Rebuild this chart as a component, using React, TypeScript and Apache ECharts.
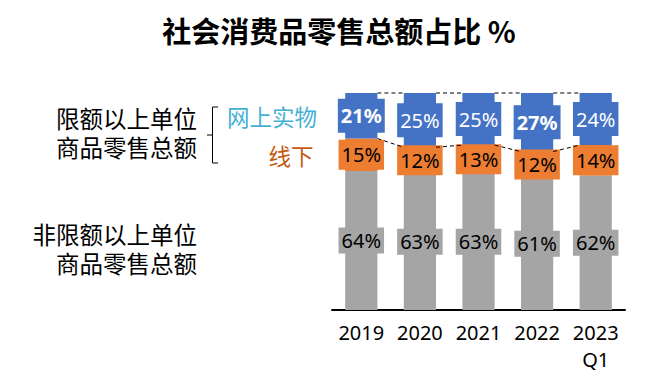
import React, { useEffect, useRef } from "react";
import * as echarts from "echarts";

const categories = ["2019", "2020", "2021", "2022", "2023\nQ1"];
const offlineAboveQuota = [15, 12, 13, 12, 14];
const onlineAboveQuota = [21, 25, 25, 27, 24];
const belowQuota = [64, 63, 63, 61, 62];
const boldOnline = [true, false, false, true, false];
const titleText = "社会消费品零售总额占比 %";
const aboveQuotaLines = ["限额以上单位", "商品零售总额"];
const belowQuotaLines = ["非限额以上单位", "商品零售总额"];

const Y_MAX = 100;
const CJK = '"Noto Sans CJK SC", "Noto Sans", sans-serif';
const LAT = '"Noto Sans", "Noto Sans CJK SC", sans-serif';

export default function App() {
  const ref = useRef<HTMLDivElement>(null);
  useEffect(() => {
    document.body.style.margin = "0";
    if (!ref.current) return;
    const chart = echarts.init(ref.current, null, { renderer: "svg" });

    const boundary = categories.map((_, i) => belowQuota[i] + offlineAboveQuota[i]);
    const totals = categories.map((_, i) =>
      Math.min(Y_MAX, belowQuota[i] + offlineAboveQuota[i] + onlineAboveQuota[i])
    );
    const pairs = (arr: number[]) =>
      arr.slice(0, -1).map((v, i) => [i, v, arr[i + 1]]);

    const seriesLine = (arr: number[], name: string) => ({
      type: "custom",
      name,
      z: 5,
      silent: true,
      data: pairs(arr),
      renderItem: (params: any, api: any) => {
        const i = api.value(0);
        const p1 = api.coord([i, api.value(1)]);
        const p2 = api.coord([i + 1, api.value(2)]);
        const bw = api.size([1, 0])[0] * 0.55;
        return {
          type: "line",
          shape: { x1: p1[0] + bw / 2, y1: p1[1], x2: p2[0] - bw / 2, y2: p2[1] },
          style: { stroke: "#000", lineWidth: 1, lineDash: [4, 3] },
        };
      },
    });

    const labelBase = {
      show: true,
      position: "inside",
      formatter: "{c}%",
      fontFamily: LAT,
      fontSize: 20,
      lineHeight: 22,
      padding: [4, 3],
    };

    const sideText = (text: string, y: number) => ({
      type: "text",
      x: 197,
      y,
      style: {
        text,
        fill: "#000",
        font: `23.5px ${CJK}`,
        textAlign: "right",
        textVerticalAlign: "middle",
      },
    });

    chart.setOption({
      animation: false,
      grid: { left: 332, right: 21, top: 93, bottom: 56 },
      xAxis: {
        type: "category",
        data: categories,
        axisLine: { lineStyle: { color: "#000", width: 2 } },
        axisTick: { show: false },
        axisLabel: {
          color: "#000",
          fontFamily: LAT,
          fontSize: 20,
          lineHeight: 27,
          margin: 9,
          interval: 0,
        },
      },
      yAxis: {
        type: "value",
        min: 0,
        max: Y_MAX,
        show: false,
        splitLine: { show: false },
      },
      series: [
        {
          type: "bar",
          name: "非限额以上单位商品零售总额",
          stack: "s",
          barWidth: "55%",
          clip: true,
          data: belowQuota,
          itemStyle: { color: "#A5A5A5" },
          label: { ...labelBase, color: "#000", backgroundColor: "#A5A5A5", padding: [2, 3] },
        },
        {
          type: "bar",
          name: "线下",
          stack: "s",
          barWidth: "55%",
          clip: true,
          data: offlineAboveQuota,
          itemStyle: { color: "#ED7D31" },
          label: { ...labelBase, color: "#000", backgroundColor: "#ED7D31", padding: [4, 3] },
        },
        {
          type: "bar",
          name: "网上实物",
          stack: "s",
          barWidth: "55%",
          clip: true,
          data: onlineAboveQuota.map((v, i) => ({
            value: v,
            label: { fontWeight: boldOnline[i] ? "bold" : "normal" },
          })),
          itemStyle: { color: "#4472C4" },
          label: { ...labelBase, color: "#fff", backgroundColor: "#4472C4", padding: [6, 3] },
        },
        seriesLine(boundary, "boundary"),
        seriesLine(totals, "top"),
      ],
      graphic: [
        {
          type: "text",
          x: 339,
          y: 30,
          style: {
            text: titleText,
            fill: "#000",
            font: `bold 29px ${CJK}`,
            textAlign: "center",
            textVerticalAlign: "middle",
          },
        },
        sideText(aboveQuotaLines[0], 118),
        sideText(aboveQuotaLines[1], 147),
        sideText(belowQuotaLines[0], 234),
        sideText(belowQuotaLines[1], 263),
        {
          type: "polyline",
          shape: { points: [[218, 107], [212.5, 107], [212.5, 163], [218, 163]] },
          style: { stroke: "#000", lineWidth: 1, fill: null },
        },
        {
          type: "line",
          shape: { x1: 207, y1: 135, x2: 212.5, y2: 135 },
          style: { stroke: "#000", lineWidth: 1 },
        },
        {
          type: "text",
          x: 272,
          y: 116,
          style: {
            text: "网上实物",
            fill: "#45B0D4",
            font: `22.5px ${CJK}`,
            textAlign: "center",
            textVerticalAlign: "middle",
          },
        },
        {
          type: "text",
          x: 291,
          y: 155,
          style: {
            text: "线下",
            fill: "#C55A11",
            font: `22.5px ${CJK}`,
            textAlign: "center",
            textVerticalAlign: "middle",
          },
        },
      ],
    });
    return () => chart.dispose();
  }, []);
  return <div ref={ref} style={{ width: 646, height: 373 }} />;
}
